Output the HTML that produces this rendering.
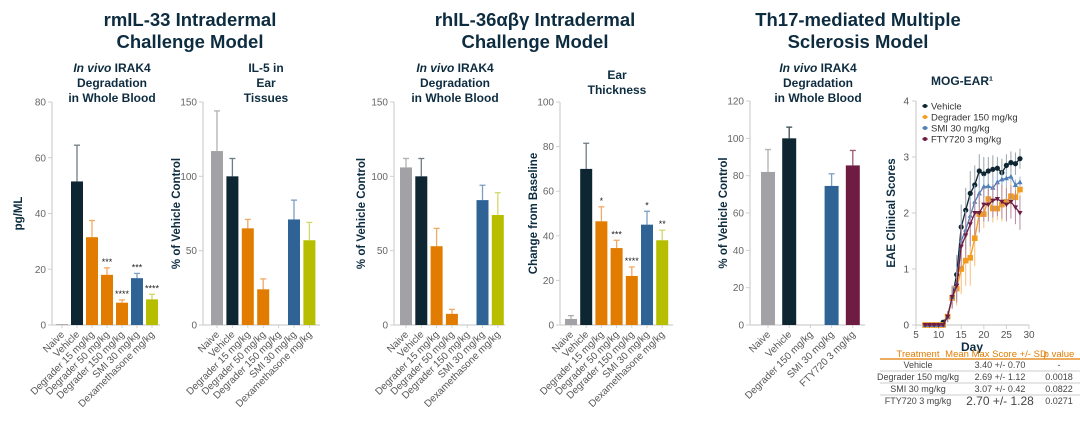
<!DOCTYPE html>
<html><head><meta charset="utf-8">
<style>
html,body{margin:0;padding:0;background:#fff;}
body{width:1080px;height:418px;overflow:hidden;font-family:"Liberation Sans","Noto Sans CJK SC",sans-serif;}
svg text{font-family:"Liberation Sans","Noto Sans CJK SC",sans-serif;}
</style></head>
<body>
<svg id="fig" width="1080" height="418" viewBox="0 0 1080 418">
<g font-size="18.5" font-weight="bold" fill="#0d2c40" text-anchor="middle">
<text x="190" y="26">rmIL-33 Intradermal</text>
<text x="190" y="48">Challenge Model</text>
<text x="535" y="26">rhIL-36αβγ Intradermal</text>
<text x="535" y="48">Challenge Model</text>
<text x="858" y="26">Th17-mediated Multiple</text>
<text x="858" y="48">Sclerosis Model</text>
</g>
<g id="charts"></g>
</svg>
<script>
// ---- data ----
const cats7 = ["Naive","Vehicle","Degrader 15 mg/kg","Degrader 50 mg/kg","Degrader 150 mg/kg","SMI 30 mg/kg","Dexamethasone mg/kg"];
const cats5 = ["Naive","Vehicle","Degrader 150 mg/kg","SMI 30 mg/kg","FTY720 3 mg/kg"];
const c1Values = [0.3,51.5,31.5,18,8,16.8,9.2];
const c1Errors = [0,13,6,2.5,1,1.7,1.8];
const c1Stars = ["","","","***","****","***","****"];
const c1Ticks = [0,20,40,60,80];
const c2Values = [117,100,65,24,null,71,57];
const c2Errors = [27,12,6,7,0,13,12];
const c2Ticks = [0,50,100,150];
const c3Values = [106,100,53,7.5,null,84,74];
const c3Errors = [6,12,12,3,0,10,15];
const c3Ticks = [0,50,100,150];
const c4Values = [2.7,70,46.5,34.5,22,45,38];
const c4Errors = [1.5,11.5,6.5,3.5,4,6,4.5];
const c4Stars = ["","","*","***","****","*","**"];
const c4Ticks = [0,20,40,60,80,100];
const c5Values = [82,100,null,74.5,85.5];
const c5Errors = [12,6,0,6.5,8];
const c5Ticks = [0,20,40,60,80,100,120];
const days = [7,8,9,10,11,12,13,14,15,16,17,18,19,20,21,22,23,24,25,26,27,28];
const vehicleScores = [0,0,0,0,0.05,0.15,0.5,0.9,1.75,2.05,2.35,2.5,2.75,2.7,2.75,2.78,2.8,2.72,2.85,2.9,2.88,2.97];
const degraderScores = [0,0,0,0,0,0.15,0.48,0.65,1.0,1.15,1.2,1.55,1.98,1.98,2.25,2.08,2.08,2.15,2.2,2.3,2.28,2.42];
const smiScores = [0,0,0,0,0,0.15,0.5,0.75,1.5,1.7,1.95,2.2,2.35,2.47,2.48,2.45,2.55,2.6,2.62,2.65,2.5,2.55];
const ftyScores = [0,0,0,0,0,0.15,0.5,0.7,1.4,1.6,1.8,2.0,2.0,2.15,2.15,2.22,2.25,2.2,2.15,2.2,2.1,2.0];
const vehicleErr = [0,0,0,0,0.03,0.1,0.2,0.35,0.4,0.4,0.4,0.35,0.3,0.3,0.25,0.25,0.2,0.25,0.2,0.2,0.2,0.18];
const degraderErr = [0,0,0,0,0,0.1,0.2,0.3,0.45,0.45,0.5,0.5,0.3,0.25,0.3,0.25,0.2,0.3,0.3,0.3,0.2,0.15];
const smiErr = [0,0,0,0,0,0.1,0.2,0.3,0.35,0.35,0.35,0.3,0.25,0.2,0.2,0.2,0.15,0.15,0.15,0.1,0.1,0.1];
const ftyErr = [0,0,0,0,0,0.1,0.2,0.3,0.4,0.4,0.4,0.4,0.35,0.3,0.3,0.3,0.3,0.3,0.3,0.3,0.3,0.3];
const xTicks = [5,10,15,20,25,30];
const yTicks6 = [0,1,2,3,4];

const NS="http://www.w3.org/2000/svg";
const root=document.getElementById('charts');
function mk(tag,attrs,parent,text){const e=document.createElementNS(NS,tag);for(const k in attrs)e.setAttribute(k,attrs[k]);if(text!==undefined)e.textContent=text;(parent||root).appendChild(e);return e;}

const col7=["#a2a2a6","#0e2631","#e17c00","#e17c00","#e17c00","#2f6396","#b7be00"];
const err7=["#b0b0b4","#6e7c84","#f0aa66","#f0aa66","#f0aa66","#7d9fc2","#d3d86a"];
const col5=["#a2a2a6","#0e2631","#e17c00","#2f6396","#6f1c42"];
const err5=["#b0b0b4","#3c4d56","#f0aa66","#7d9fc2","#9a5a76"];

function barChart(o){
  const g=mk('g',{});
  
  
  const y=v=>o.y0-(v/o.ymax)*(o.y0-o.ytop);
  const xc=i=>o.x1+i*o.step;
  const ax=mk('line',{x1:o.ax,y1:o.ytop,x2:o.ax,y2:o.y0,stroke:'#cfcfcf','stroke-width':1.2},g);
  
  const bx=mk('line',{x1:o.ax,y1:o.y0,x2:o.axEnd,y2:o.y0,stroke:'#cfcfcf','stroke-width':1.2},g);
  
  o.ticks.forEach(t=>{
    mk('line',{x1:o.ax-4,y1:y(t),x2:o.ax,y2:y(t),stroke:'#cfcfcf'},g);
    const tl=mk('text',{x:o.ax-6,y:y(t)+3.5,'font-size':10,fill:'#666','text-anchor':'end'},g,t);
    
  });
  o.cats.forEach((c,i)=>{
    mk('line',{x1:xc(i),y1:o.y0,x2:xc(i),y2:o.y0+3,stroke:'#cfcfcf'},g);
    const tl=mk('text',{x:0,y:0,'font-size':10,fill:'#555','text-anchor':'end',transform:`translate(${xc(i)+3},${o.y0+10}) rotate(-45)`},g,c);
    
    const v=o.values[i]; if(v===null||v===undefined) return;
    const top=y(v+o.errors[i]);
    if(o.errors[i]>0){
      mk('line',{x1:xc(i),y1:top,x2:xc(i),y2:y(v),stroke:o.ecol[i],'stroke-width':1.3},g);
      mk('line',{x1:xc(i)-3,y1:top,x2:xc(i)+3,y2:top,stroke:o.ecol[i],'stroke-width':1.3},g);
    }
    const r=mk('rect',{x:xc(i)-o.bw/2,y:y(v),width:o.bw,height:Math.max(o.y0-y(v),0.8),fill:o.cols[i]},g);
    
    
    if(o.stars&&o.stars[i]){
      const s=mk('text',{x:xc(i),y:top-3,'font-size':9,fill:'#222','text-anchor':'middle'},g,o.stars[i]);
      
    }
  });
  const yt=mk('text',{x:0,y:0,'font-size':11.5,'font-weight':'bold',fill:'#0d2c40','text-anchor':'middle',transform:`translate(${o.ylabX},${(o.ytop+o.y0)/2}) rotate(-90)`},g,o.ylab);
  
  o.sub.forEach((s,k)=>{
    const t=mk('text',{x:o.subX,y:o.subY+k*15,'font-size':12,'font-weight':'bold',fill:'#0d2c40','text-anchor':'middle'},g);
    
    if(s==='IV'){mk('tspan',{'font-style':'italic'},t,'In vivo');mk('tspan',{},t,' IRAK4');}
    else t.textContent=s;
  });
}
const subIV=['IV','Degradation','in Whole Blood'];
barChart({name:'chart-il33-blood',ax:52,axEnd:160,ytop:102,y0:325,ymax:80,x1:62,step:15,bw:12,cats:cats7,values:c1Values,errors:c1Errors,stars:c1Stars,ticks:c1Ticks,cols:col7,ecol:err7,ylab:'pg/ML',ylabX:22,sub:subIV,subX:112,subY:72});
barChart({name:'chart-il5-ear',ax:203,axEnd:320,ytop:102,y0:325,ymax:150,x1:217,step:15.4,bw:12,cats:cats7,values:c2Values,errors:c2Errors,ticks:c2Ticks,cols:col7,ecol:err7,ylab:'% of Vehicle Control',ylabX:180,sub:['IL-5 in','Ear','Tissues'],subX:266,subY:72});
barChart({name:'chart-il36-blood',ax:394,axEnd:505,ytop:102,y0:325,ymax:150,x1:406,step:15.3,bw:12,cats:cats7,values:c3Values,errors:c3Errors,ticks:c3Ticks,cols:col7,ecol:err7,ylab:'% of Vehicle Control',ylabX:365,sub:subIV,subX:455,subY:72});
barChart({name:'chart-ear-thickness',ax:560,axEnd:673,ytop:102,y0:325,ymax:100,x1:571,step:15.2,bw:12,cats:cats7,values:c4Values,errors:c4Errors,stars:c4Stars,ticks:c4Ticks,cols:col7,ecol:err7,ylab:'Change from Baseline',ylabX:537,sub:['Ear','Thickness'],subX:617,subY:79});
barChart({name:'chart-th17-blood',ax:750,axEnd:865,ytop:101,y0:325,ymax:120,x1:768,step:21.2,bw:14,cats:cats5,values:c5Values,errors:c5Errors,ticks:c5Ticks,cols:col5,ecol:err5,ylab:'% of Vehicle Control',ylabX:727,sub:subIV,subX:818,subY:72});

// ---- line chart ----
(function(){
  const g=mk('g',{});
  
  
  const X=d=>916+(d-5)/25*(1029-916);
  const Y=v=>325-v/4*(325-101);
  mk('line',{x1:916,y1:101,x2:916,y2:325,stroke:'#cfcfcf','stroke-width':1.2},g);
  mk('line',{x1:916,y1:325,x2:1029,y2:325,stroke:'#cfcfcf','stroke-width':1.2},g);
  yTicks6.forEach(t=>{mk('line',{x1:912,y1:Y(t),x2:916,y2:Y(t),stroke:'#cfcfcf'},g);
    const l=mk('text',{x:909,y:Y(t)+3.5,'font-size':10,fill:'#555','text-anchor':'end'},g,t);
    });
  xTicks.forEach(t=>{mk('line',{x1:X(t),y1:325,x2:X(t),y2:329,stroke:'#cfcfcf'},g);
    const l=mk('text',{x:X(t),y:338,'font-size':10,fill:'#555','text-anchor':'middle'},g,t);
    });
  const xt=mk('text',{x:972,y:351,'font-size':12,'font-weight':'bold',fill:'#0d2c40','text-anchor':'middle'},g,'Day');
  
  const yt=mk('text',{x:0,y:0,'font-size':11.5,'font-weight':'bold',fill:'#0d2c40','text-anchor':'middle',transform:'translate(895,213) rotate(-90)'},g,'EAE Clinical Scores');
  
  const tt=mk('text',{x:962,y:85,'font-size':12,'font-weight':'bold',fill:'#0d2c40','text-anchor':'middle'},g,'MOG-EAR¹');
  
  const series=[
    {n:'vehicle',v:vehicleScores,e:vehicleErr,c:'#0e2631',ec:'#9aa4aa',m:'circle',l:'Vehicle'},
    {n:'degrader',v:degraderScores,e:degraderErr,c:'#f39b1c',ec:'#f6c07a',m:'square',l:'Degrader 150 mg/kg'},
    {n:'smi',v:smiScores,e:smiErr,c:'#4f7fb8',ec:'#a2bcd9',m:'star',l:'SMI 30 mg/kg'},
    {n:'fty720',v:ftyScores,e:ftyErr,c:'#6f1c42',ec:'#b48aa0',m:'tri',l:'FTY720 3 mg/kg'}];
  series.forEach(s=>{
    const sg=mk('g',{},g);
    
    
    days.forEach((d,i)=>{ if(s.e[i]>0) mk('line',{x1:X(d),y1:Y(s.v[i]-s.e[i]),x2:X(d),y2:Y(s.v[i]+s.e[i]),stroke:s.ec,'stroke-width':1},sg);});
    mk('polyline',{points:days.map((d,i)=>X(d)+','+Y(s.v[i])).join(' '),fill:'none',stroke:s.c,'stroke-width':1.3},sg);
    days.forEach((d,i)=>{
      const x=X(d),y=Y(s.v[i]);
      if(s.m==='circle') mk('circle',{cx:x,cy:y,r:2.6,fill:s.c},sg);
      else if(s.m==='square') mk('rect',{x:x-2.8,y:y-2.8,width:5.6,height:5.6,fill:s.c},sg);
      else if(s.m==='star') mk('path',{d:`M${x},${y-2.8}L${x+2.6},${y+2}L${x-2.6},${y+2}Z`,fill:s.c},sg);
      else mk('path',{d:`M${x-2.6},${y-2}L${x+2.6},${y-2}L${x},${y+2.6}Z`,fill:s.c},sg);
    });
  });
  series.forEach((s,k)=>{
    const ly=106+k*11;
    const lg=mk('g',{},g);
    
    
    mk('line',{x1:922,y1:ly,x2:928,y2:ly,stroke:s.c},lg);
    mk('circle',{cx:925,cy:ly,r:2,fill:s.c},lg);
    mk('text',{x:931,y:ly+3.5,'font-size':9.5,fill:'#333'},lg,s.l);
  });
  const tg=mk('g',{},g);
  
  
  const hdr=[['Treatment',918],['Mean Max Score +/- SD',996],['p value',1059]];
  hdr.forEach(h=>mk('text',{x:h[1],y:357,'font-size':9.5,fill:'#e17c00','text-anchor':'middle'},tg,h[0]));
  mk('line',{x1:880,y1:359,x2:1080,y2:359,stroke:'#e17c00','stroke-width':1.2},tg);
  const rows=[['Vehicle','3.40 +/- 0.70','-'],['Degrader 150 mg/kg','2.69 +/- 1.12','0.0018'],['SMI 30 mg/kg','3.07 +/- 0.42','0.0822'],['FTY720 3 mg/kg','2.70 +/- 1.28','0.0271']];
  rows.forEach((r,k)=>{
    const yy=368+k*12;
    mk('text',{x:918,y:yy,'font-size':9,fill:'#444','text-anchor':'middle'},tg,r[0]);
    mk('text',{x:1000,y:yy+(k===3?1:0),'font-size':k===3?12:9,fill:'#444','text-anchor':'middle'},tg,r[1]);
    mk('text',{x:1059,y:yy,'font-size':9,fill:'#444','text-anchor':'middle'},tg,r[2]);
    if(k<3) mk('line',{x1:880,y1:yy+3,x2:1080,y2:yy+3,stroke:'#bbb','stroke-width':0.8},tg);
  });
})();
</script>
</body></html>
